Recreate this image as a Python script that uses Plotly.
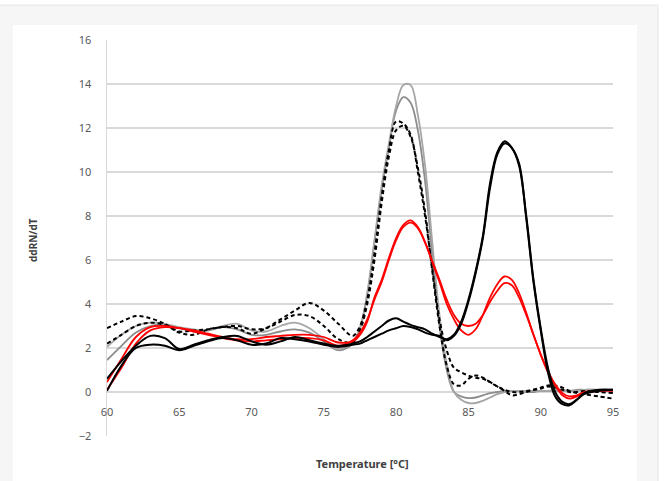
import plotly.graph_objects as go

# Temperature grid (°C)
temperature = [60, 61, 62, 63, 64, 65, 66, 67, 68, 69, 70, 71, 72, 73, 74, 75, 76, 77,
               77.5, 78, 78.5, 79, 79.5, 80, 80.5, 81, 81.5, 82, 82.5, 83, 83.5, 84, 84.5,
               85, 85.5, 86, 86.5, 87, 87.5, 88, 88.5, 89, 89.5, 90, 90.5, 91, 91.5, 92,
               92.5, 93, 94, 95]

gray_1 = [2.05, 2.6, 3.0, 3.15, 3.1, 2.95, 2.85, 2.8, 3.0, 3.1, 2.8, 2.75, 3.0, 3.15, 2.9, 2.4, 1.95, 2.3,
          2.9, 4.5, 6.9, 9.4, 11.3, 13.0, 13.95, 13.95, 12.6, 10.3, 6.8, 3.5, 1.3, 0.0, -0.35,
          -0.5, -0.5, -0.4, -0.25, -0.1, 0.0, 0.05, 0.05, 0.05, 0.05, 0.05, 0.05, 0.1, 0.1, 0.05,
          0.05, 0.1, 0.1, 0.1]
gray_2 = [1.45, 2.1, 2.7, 3.0, 3.05, 2.9, 2.75, 2.8, 2.95, 2.85, 2.6, 2.6, 2.75, 2.85, 2.7, 2.3, 1.9, 2.2,
          2.9, 4.4, 6.8, 9.2, 11.1, 12.8, 13.4, 13.15, 11.9, 9.6, 6.2, 3.0, 1.0, 0.0, -0.2,
          -0.28, -0.25, -0.15, -0.05, 0.0, 0.05, 0.05, 0.05, 0.0, 0.0, 0.05, 0.05, 0.05, 0.05, 0.05,
          0.1, 0.1, 0.1, 0.05]
dashed_1 = [2.9, 3.2, 3.45, 3.35, 3.1, 2.75, 2.8, 2.85, 2.95, 2.9, 2.65, 2.9, 3.3, 3.7, 4.05, 3.7, 3.1, 2.55,
            3.0, 4.2, 6.3, 8.9, 11.0, 12.3, 12.2, 11.7, 10.0, 8.0, 5.6, 3.3, 1.9, 1.1, 0.9,
            0.75, 0.65, 0.6, 0.45, 0.25, 0.05, -0.15, -0.1, 0.0, 0.1, 0.2, 0.3, 0.3, 0.2, 0.05,
            -0.05, -0.1, -0.2, -0.3]
dashed_2 = [2.2, 2.6, 3.0, 3.15, 3.05, 2.7, 2.6, 2.85, 2.95, 3.0, 2.85, 2.9, 3.2, 3.5, 3.45, 3.0, 2.4, 2.25,
            2.8, 4.0, 6.0, 8.6, 10.7, 11.9, 12.1, 11.6, 10.2, 8.2, 5.5, 3.0, 1.2, 0.35, 0.3,
            0.6, 0.75, 0.65, 0.45, 0.25, 0.1, 0.0, 0.0, 0.05, 0.1, 0.15, 0.25, 0.2, 0.1, 0.0,
            0.0, 0.05, 0.0, -0.05]
red_1 = [0.45, 1.5, 2.5, 2.95, 3.0, 2.9, 2.8, 2.65, 2.5, 2.4, 2.4, 2.5, 2.55, 2.6, 2.6, 2.5, 2.25, 2.3,
         2.6, 3.2, 4.3, 5.1, 6.1, 7.0, 7.6, 7.8, 7.5, 6.8, 5.9, 5.0, 4.0, 3.3, 2.8,
         2.6, 2.85, 3.5, 4.3, 4.9, 5.25, 5.1, 4.5, 3.6, 2.6, 1.7, 0.9, 0.3, -0.15, -0.3,
         -0.2, -0.05, 0.05, 0.05]
red_2 = [0.1, 1.1, 2.2, 2.8, 2.95, 2.9, 2.75, 2.6, 2.45, 2.35, 2.3, 2.35, 2.4, 2.45, 2.45, 2.35, 2.1, 2.35,
         2.7, 3.3, 4.2, 5.0, 6.0, 6.9, 7.5, 7.7, 7.45, 6.8, 5.95, 5.1, 4.2, 3.5, 3.1,
         3.0, 3.1, 3.5, 4.1, 4.6, 4.95, 4.85, 4.3, 3.5, 2.6, 1.7, 0.95, 0.35, -0.05, -0.2,
         -0.15, 0.0, 0.05, 0.1]
black_1 = [0.6, 1.4, 2.1, 2.55, 2.45, 1.95, 2.15, 2.35, 2.5, 2.55, 2.3, 2.15, 2.3, 2.5, 2.35, 2.2, 2.1, 2.2,
           2.3, 2.5, 2.75, 3.0, 3.25, 3.35, 3.2, 3.05, 2.95, 2.85, 2.65, 2.5, 2.4, 2.6, 3.2,
           4.2, 5.5, 7.1, 9.5, 10.9, 11.4, 11.1, 10.4, 7.9, 5.0, 2.8, 0.9, -0.2, -0.55, -0.6,
           -0.35, -0.05, 0.1, 0.1]
black_2 = [0.05, 1.2, 2.0, 2.15, 2.1, 1.9, 2.1, 2.3, 2.45, 2.35, 2.15, 2.2, 2.45, 2.4, 2.3, 2.15, 2.05, 2.15,
           2.2, 2.35, 2.5, 2.65, 2.8, 2.9, 3.0, 2.95, 2.85, 2.7, 2.6, 2.55, 2.35, 2.55, 3.1,
           4.1, 5.4, 7.0, 9.3, 10.8, 11.3, 11.1, 10.3, 8.0, 5.1, 2.9, 1.1, 0.0, -0.45, -0.55,
           -0.35, -0.1, 0.05, 0.1]

x_ticks = [60, 65, 70, 75, 80, 85, 90, 95]
y_ticks = [-2, 0, 2, 4, 6, 8, 10, 12, 14, 16]

series = [
    (gray_2, "#8c8c8c", 1.8, "solid"),
    (gray_1, "#a6a6a6", 1.8, "solid"),
    (dashed_2, "#000000", 2.0, "4px,3px"),
    (dashed_1, "#000000", 2.0, "4px,3px"),
    (red_2, "#ff0000", 1.8, "solid"),
    (red_1, "#ff0000", 1.8, "solid"),
    (black_2, "#000000", 2.0, "solid"),
    (black_1, "#000000", 2.0, "solid"),
]

fig = go.Figure()
for vals, col, w, dash in series:
    fig.add_trace(go.Scatter(x=temperature, y=vals, mode="lines",
                             line=dict(color=col, width=w, dash=dash, shape="spline", smoothing=1.0),
                             showlegend=False, hoverinfo="skip"))

# plot area px: x 107..613, y 40..436
L, R, T, B = 107, 613, 40, 436
W, H = 665, 481
def px(x):
    return (x - L) / (R - L)
def py(y):
    return (B - y) / (B - T)

shapes = [
    dict(type="rect", xref="paper", yref="paper", x0=px(-2), x1=px(658), y0=py(490), y1=py(5),
         fillcolor="#f6f6f6", line=dict(color="#e6e6e6", width=1), layer="below"),
    dict(type="rect", xref="paper", yref="paper", x0=px(13), x1=px(637), y0=py(490), y1=py(25),
         fillcolor="#ffffff", line=dict(width=0), layer="below"),
]

fig.update_layout(
    template="none",
    width=W, height=H,
    margin=dict(l=L, r=W - R, t=T, b=H - B, pad=0),
    paper_bgcolor="#ffffff",
    plot_bgcolor="rgba(0,0,0,0)",
    font=dict(family="Noto Sans, Open Sans, sans-serif", size=11, color="#595959"),
    shapes=shapes,
    xaxis=dict(range=[60, 95], tickvals=x_ticks, showgrid=False, zeroline=False, showline=False,
               anchor="free", position=2 / 18, ticks="", ticklabelstandoff=12, color="#595959",
               tickfont=dict(size=11, color="#595959")),
    yaxis=dict(range=[-2, 16], tickvals=y_ticks, showgrid=True, gridcolor="#d9d9d9", gridwidth=1.5,
               zeroline=False, showline=True, linecolor="#d9d9d9", linewidth=1.5, ticks="",
               color="#595959", ticklabelstandoff=12, tickfont=dict(size=11, color="#595959"),
               domain=[0, 1]),
    annotations=[
        dict(text="<b>Temperature [°C]</b>", xref="paper", yref="paper", x=px(362), y=py(463),
             showarrow=False, font=dict(size=11, color="#404040"), xanchor="center", yanchor="middle"),
        dict(text="<b>ddRN/dT</b>", xref="paper", yref="paper", x=px(33), y=py(240),
             showarrow=False, textangle=-90, font=dict(size=10, color="#404040"),
             xanchor="center", yanchor="middle"),
    ],
)

fig.write_html("out.html", config={"displayModeBar": False, "staticPlot": True},
               post_script="document.body.style.margin='0';document.body.style.overflow='hidden';")
